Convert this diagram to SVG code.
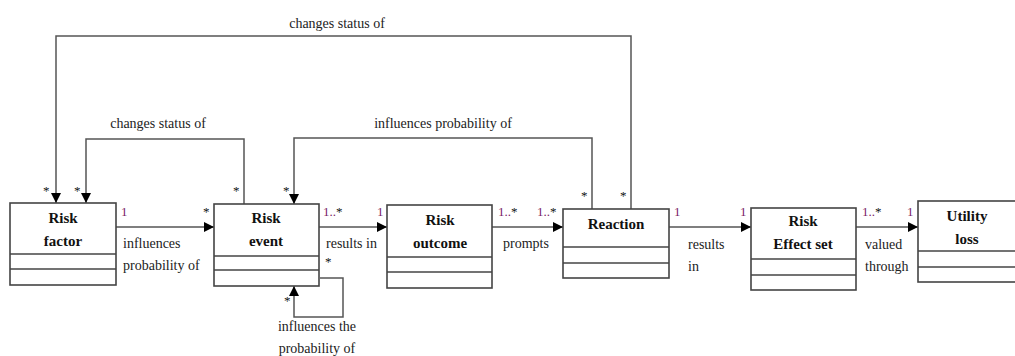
<svg xmlns="http://www.w3.org/2000/svg" width="1015" height="356" viewBox="0 0 1015 356">
  <style>
    .box { fill: #fff; stroke: #444; stroke-width: 1.6; }
    .div { stroke: #444; stroke-width: 1.4; }
    .title { font-weight: bold; font-size: 15px; fill: #111; text-anchor: middle; }
    .lbl { font-size: 14px; fill: #222; }
    .mul { font-size: 13px; fill: #7a1e66; }
    .star { font-size: 13px; fill: #111; }
    .edge { fill: none; stroke: #555; stroke-width: 1.5; }
  </style>
  <defs>
    <marker id="arrow" viewBox="0 0 10 10" refX="10" refY="5" markerWidth="10" markerHeight="10" markerUnits="userSpaceOnUse" orient="auto">
      <path d="M0,0 L10,5 L0,10 Z" fill="#000"/>
    </marker>
  </defs>
  <rect width="1015" height="356" fill="#fff"/>

  <g font-family="Liberation Serif, Times New Roman, serif">
  <!-- connectors -->
  <g id="connectors">
    <path class="edge" d="M631,209 V36 H56 V203" marker-end="url(#arrow)"/>
    <path class="edge" d="M244,204 V139 H86 V203" marker-end="url(#arrow)"/>
    <path class="edge" d="M592,209 V138 H294 V204" marker-end="url(#arrow)"/>
    <path class="edge" d="M116,227 H214" marker-end="url(#arrow)"/>
    <path class="edge" d="M319,227 H387" marker-end="url(#arrow)"/>
    <path class="edge" d="M320,278 H343 V317 H294 V286" marker-end="url(#arrow)"/>
    <path class="edge" d="M492,227 H563" marker-end="url(#arrow)"/>
    <path class="edge" d="M669,227 H751" marker-end="url(#arrow)"/>
    <path class="edge" d="M856,227 H918" marker-end="url(#arrow)"/>

    <text class="lbl" x="337" y="28" text-anchor="middle">changes status of</text>
    <text class="lbl" x="158" y="128" text-anchor="middle">changes status of</text>
    <text class="lbl" x="443" y="128" text-anchor="middle">influences probability of</text>
    <text class="lbl" x="123" y="248">influences</text>
    <text class="lbl" x="123" y="270">probability of</text>
    <text class="lbl" x="326" y="248">results in</text>
    <text class="lbl" x="317" y="331" text-anchor="middle">influences the</text>
    <text class="lbl" x="317" y="353" text-anchor="middle">probability of</text>
    <text class="lbl" x="503" y="248">prompts</text>
    <text class="lbl" x="688" y="249">results</text>
    <text class="lbl" x="688" y="271">in</text>
    <text class="lbl" x="865" y="249">valued</text>
    <text class="lbl" x="865" y="271">through</text>

    <text class="star" x="43" y="195">*</text>
    <text class="star" x="74" y="195">*</text>
    <text class="mul" x="121" y="216">1</text>
    <text class="star" x="203" y="216">*</text>
    <text class="star" x="233" y="195">*</text>
    <text class="star" x="283" y="195">*</text>
    <text class="mul" x="323" y="216">1..<tspan class="star">*</tspan></text>
    <text class="mul" x="377" y="216">1</text>
    <text class="star" x="325" y="266">*</text>
    <text class="star" x="284" y="305">*</text>
    <text class="mul" x="498" y="216">1..<tspan class="star">*</tspan></text>
    <text class="mul" x="537" y="216">1..<tspan class="star">*</tspan></text>
    <text class="star" x="581" y="200">*</text>
    <text class="star" x="620" y="200">*</text>
    <text class="mul" x="674" y="216">1</text>
    <text class="mul" x="740" y="216">1</text>
    <text class="mul" x="862" y="216">1..<tspan class="star">*</tspan></text>
    <text class="mul" x="907" y="216">1</text>
  </g>

  <!-- classes -->
  <g id="risk-factor">
    <rect class="box" x="10" y="203" width="106" height="82"/>
    <line class="div" x1="10" y1="254" x2="116" y2="254"/>
    <line class="div" x1="10" y1="269" x2="116" y2="269"/>
    <text class="title" x="63" y="223">Risk</text>
    <text class="title" x="63" y="246">factor</text>
  </g>
  <g id="risk-event">
    <rect class="box" x="214" y="204" width="105" height="82"/>
    <line class="div" x1="214" y1="256" x2="319" y2="256"/>
    <line class="div" x1="214" y1="270" x2="319" y2="270"/>
    <text class="title" x="266" y="223">Risk</text>
    <text class="title" x="266" y="246">event</text>
  </g>
  <g id="risk-outcome">
    <rect class="box" x="387" y="205" width="105" height="83"/>
    <line class="div" x1="387" y1="257" x2="492" y2="257"/>
    <line class="div" x1="387" y1="272" x2="492" y2="272"/>
    <text class="title" x="440" y="225">Risk</text>
    <text class="title" x="440" y="248">outcome</text>
  </g>
  <g id="reaction">
    <rect class="box" x="563" y="209" width="106" height="69"/>
    <line class="div" x1="563" y1="247" x2="669" y2="247"/>
    <line class="div" x1="563" y1="263" x2="669" y2="263"/>
    <text class="title" x="616" y="229">Reaction</text>
  </g>
  <g id="risk-effect-set">
    <rect class="box" x="751" y="208" width="105" height="82"/>
    <line class="div" x1="751" y1="259" x2="856" y2="259"/>
    <line class="div" x1="751" y1="275" x2="856" y2="275"/>
    <text class="title" x="803" y="226">Risk</text>
    <text class="title" x="803" y="249">Effect set</text>
  </g>
  <g id="utility-loss">
    <rect class="box" x="918" y="201" width="100" height="81"/>
    <line class="div" x1="918" y1="251" x2="1018" y2="251"/>
    <line class="div" x1="918" y1="267" x2="1018" y2="267"/>
    <text class="title" x="967" y="221">Utility</text>
    <text class="title" x="967" y="244">loss</text>
  </g>
  </g>
</svg>
